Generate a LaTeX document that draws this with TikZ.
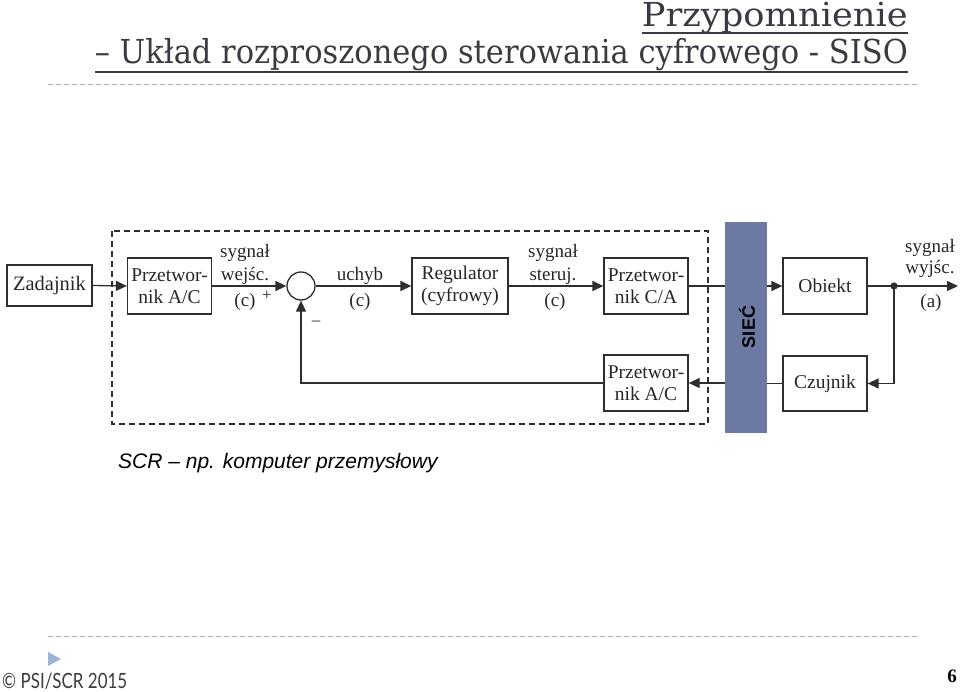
\documentclass[tikz,border=0pt]{standalone}
\usepackage{fontspec}
\usepackage{graphicx}
\setmainfont{Liberation Serif}
\newfontfamily\titlefont{DejaVu Serif}
\newfontfamily\sansf{Liberation Sans}
\newfontfamily\footfont{Lato}
\usetikzlibrary{arrows.meta}
\definecolor{linec}{HTML}{2E2E2E}
\definecolor{titlec}{HTML}{3A3A42}
\definecolor{dashc}{HTML}{A8B4C4}
\definecolor{barc}{RGB}{108,122,163}
\definecolor{trianc}{HTML}{9DB4D4}
\begin{document}
\begin{tikzpicture}[x=1pt,y=-1pt,
 blk/.style={draw=linec,line width=1.3pt,fill=white,inner sep=0pt,align=center,font=\fontsize{19.5}{22}\selectfont,text=black!85},
 lbl/.style={inner sep=0pt,anchor=base,font=\fontsize{19}{22}\selectfont,text=black!85},
 conn/.style={draw=linec,line width=1.3pt},
 arr/.style={conn,-{Triangle[length=11pt,width=10pt]}},
 sepline/.style={draw=dashc,line width=1pt,dash pattern=on 5pt off 3pt}]
\useasboundingbox (0,0) rectangle (960,692);

% title
\node[anchor=base east,inner sep=0pt,text=titlec,font=\titlefont\fontsize{33}{38}\selectfont] (t1) at (908,27) {\resizebox{266pt}{\height}{Przypomnienie}};
\draw[titlec,line width=1.6pt] (642,33) -- (908,33);
\node[anchor=base east,inner sep=0pt,text=titlec,font=\titlefont\fontsize{33}{38}\selectfont] (t2) at (908,64) {\resizebox{813pt}{\height}{– Układ rozproszonego sterowania cyfrowego - SISO}};
\draw[titlec,line width=1.6pt] (95,72) -- (908,72);
\draw[sepline] (48,85) -- (918,85);

% frame and network
\draw[linec,line width=1.1pt,dash pattern=on 6pt off 4pt] (112,231) rectangle (708,424);
\node[fill=barc,minimum width=42pt,minimum height=211pt,inner sep=0pt] (net) at (746,327.5) {};
\node[rotate=90,inner sep=0pt,font=\sansf\bfseries\fontsize{18}{20}\selectfont] (nettxt) at (747,327) {SIEĆ};

% blocks
\node[blk,minimum width=85pt,minimum height=41pt,font=\fontsize{20.5}{24}\selectfont] (zad) at (49.5,285.5) {Zadajnik};
\node[blk,minimum width=84pt,minimum height=56pt] (ac1) at (169.5,286) {Przetwor-\\nik A/C};
\node[draw=linec,line width=1.3pt,fill=white,circle,minimum size=28pt,inner sep=0pt] (sum) at (301,286) {};
\node[blk,minimum width=96pt,minimum height=56pt] (reg) at (460,286) {Regulator\\(cyfrowy)};
\node[blk,minimum width=84pt,minimum height=56pt] (ca) at (646,286) {Przetwor-\\nik C/A};
\node[blk,minimum width=84pt,minimum height=56pt] (ob) at (825,286) {Obiekt};
\node[blk,minimum width=84pt,minimum height=55pt] (cz) at (825,383.5) {Czujnik};
\node[blk,minimum width=84pt,minimum height=56pt] (ac2) at (646,383) {Przetwor-\\nik A/C};
\fill[linec] (894,286) circle (3.6pt);
\coordinate (dot) at (894,286);
\coordinate (out) at (958,286);

% connectors
\draw[arr] (zad.east) -- (ac1.west);
\draw[arr] (ac1.east) -- (sum.west);
\draw[arr] (sum.east) -- (reg.west);
\draw[arr] (reg.east) -- (ca.west);
\draw[conn] (ca.east) -- (ca.east -| net.west);
\draw[arr] (ob.west -| net.east) -- (ob.west);
\draw[conn] (ob.east) -- (dot);
\draw[arr] (dot) -- (out);
\draw[arr] (dot) |- (cz.east);
\draw[conn] (cz.west) -- (cz.west -| net.east);
\draw[arr] (ac2.east -| net.west) -- (ac2.east);
\draw[arr] (ac2.west) -| (sum.south);

% labels
\node[lbl] (l1a) at (245,258) {sygnał};
\node[lbl] (l1b) at (245,281) {wejśc.};
\node[lbl] (l1c) at (245,306) {(c)};
\node[lbl,font=\fontsize{17}{18}\selectfont] (plus) at (267,301) {+};
\node[lbl,font=\fontsize{17}{18}\selectfont] (minus) at (316,325) {–};
\node[lbl] (l2a) at (360,281) {uchyb};
\node[lbl] (l2b) at (360,306) {(c)};
\node[lbl] (l3a) at (553,258) {sygnał};
\node[lbl] (l3b) at (553,281) {steruj.};
\node[lbl] (l3c) at (555,306) {(c)};
\node[lbl] (l4a) at (930,253) {sygnał};
\node[lbl] (l4b) at (930,274) {wyjśc.};
\node[lbl] (l4c) at (931,307) {(a)};

\node[anchor=base west,inner sep=0pt,font=\sansf\itshape\fontsize{21}{24}\selectfont] (scr) at (118,468) {SCR – np. komputer przemysłowy};

% footer
\draw[sepline] (48,636) -- (918,636);
\fill[trianc] (48,652) -- (61,659) -- (48,666) -- cycle;
\node[anchor=base west,inner sep=0pt,text=titlec,font=\footfont\fontsize{21}{24}\selectfont] (foot) at (2,688) {\resizebox{125pt}{\height}{© PSI/SCR 2015}};
\node[anchor=base east,inner sep=0pt,font=\bfseries\fontsize{19}{22}\selectfont] (pg) at (957,682) {6};
\end{tikzpicture}
\end{document}
